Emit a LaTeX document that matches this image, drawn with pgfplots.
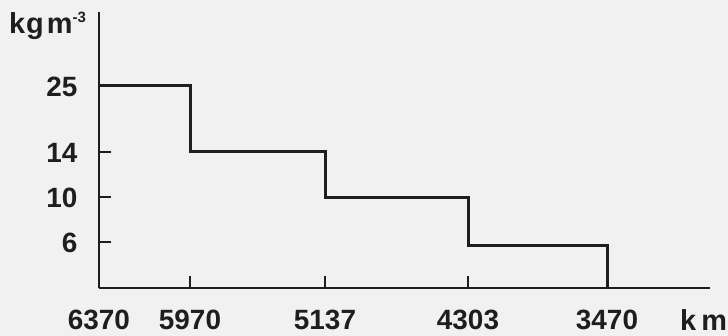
\documentclass[border=0pt]{standalone}
\usepackage{fontspec}
\setmainfont{Liberation Sans}[BoldFont={Liberation Sans Bold}]
\usepackage{pgfplots}
\pgfplotsset{compat=1.18}
\definecolor{bg}{HTML}{F1F1F1}
\definecolor{ink}{HTML}{1E1E1E}
\newcommand{\lab}{\fontsize{28}{30}\bfseries\selectfont}
\begin{document}
\begin{tikzpicture}
\fill[bg] (-99bp,-48bp) rectangle (629bp,288bp);
\begin{axis}[
  at={(0,0)}, anchor=origin,
  scale only axis, width=611bp, height=276bp,
  xmin=0, xmax=611, ymin=0, ymax=276,
  axis lines=left,
  axis line style={-, line width=2bp, ink},
  tick align=inside,
  tick style={line width=2bp, ink},
  major tick length=12bp,
  xtick={0,91,226,369,508},
  xticklabels={6370,5970,5137,4303,3470},
  ytick={46,91,136,202},
  yticklabels={6,10,14,25},
  /pgf/number format/assume math mode=true,
  xticklabel style={font=\lab, text=ink, yshift=-19bp},
  yticklabel style={font=\lab, text=ink, xshift=-18bp, yshift=-1bp},
  clip=false,
]
\addplot[ink, line width=3bp, line join=miter] coordinates {
  (0,202) (91,202) (91,136) (226,136) (226,90) (369,90) (369,43) (508,43) (508,0)
};
\node[anchor=base west, inner sep=0pt, text=ink, font=\fontsize{29}{31}\bfseries\selectfont]
  at (axis cs:-90,254) {k\hspace{1bp}g\hspace{3bp}m\raisebox{11bp}{\fontsize{15}{15}\bfseries\selectfont -3}};
\node[anchor=base west, inner sep=0pt, text=ink, font=\fontsize{29}{31}\bfseries\selectfont]
  at (axis cs:581,-42) {k\hspace{5bp}m};
\end{axis}
\pgfresetboundingbox
\path[use as bounding box] (-99bp,-48bp) rectangle (629bp,288bp);
\end{tikzpicture}
\end{document}
